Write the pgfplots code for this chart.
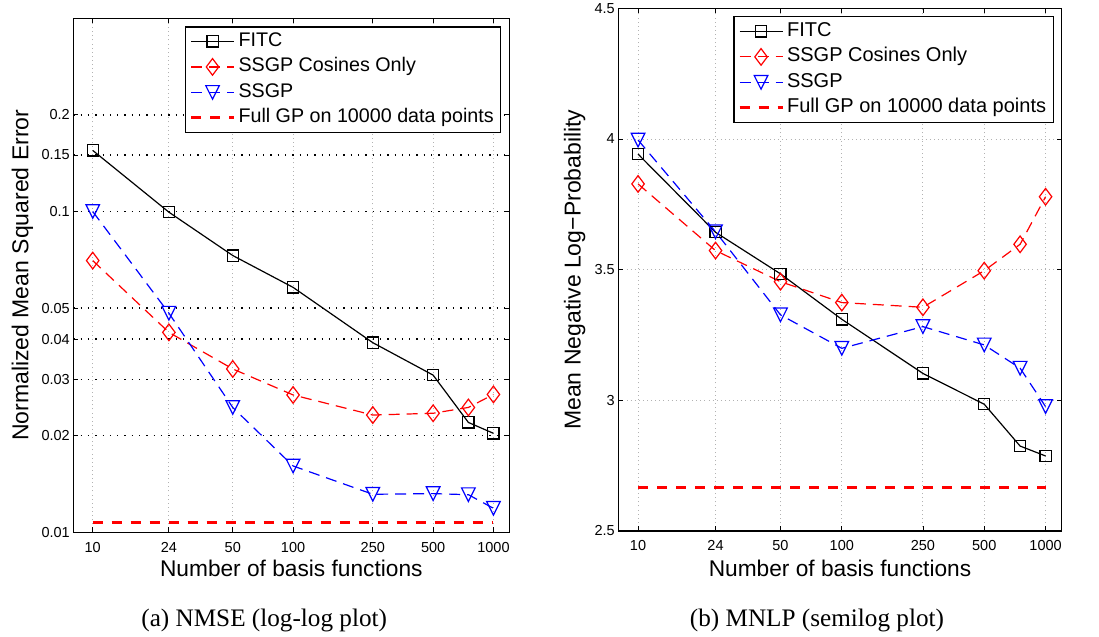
\documentclass[border=0pt]{standalone}
\usepackage{fontspec}
\setmainfont{Liberation Sans}
\newfontfamily\capfont{Liberation Serif}
\usepackage{pgfplots}
\pgfplotsset{compat=1.18}
\pgfdeclareplotmark{tridown}{%
  \pgfpathmoveto{\pgfqpoint{-\pgfplotmarksize}{\pgfplotmarksize}}%
  \pgfpathlineto{\pgfqpoint{\pgfplotmarksize}{\pgfplotmarksize}}%
  \pgfpathlineto{\pgfqpoint{0pt}{-\pgfplotmarksize}}%
  \pgfpathclose\pgfusepathqstroke}
\pgfplotsset{
  mystyle/.style={
    scale only axis,
    xmin=8, xmax=1200,
    xtick={10,24,50,100,250,500,1000},
    xticklabels={10,24,50,100,250,500,1000},
    tick align=inside,
    xtick pos=both, ytick pos=both,
    xticklabel pos=lower, yticklabel pos=left,
    major tick length=5bp,
    tick style={black, line width=0.8bp},
    axis line style={line width=1.3bp},
    ticklabel style={font=\fontsize{14.5bp}{17bp}\selectfont},
    xticklabel style={anchor=base, yshift=-20bp},
    yticklabel style={anchor=east},
    xmajorgrids, ymajorgrids,
    x grid style={gray!60, line width=0.9bp, dash pattern=on 0.9bp off 3.2bp},
    legend cell align=left,
    legend image code/.code={\draw[mark repeat=2,mark phase=2,##1] plot coordinates {(0bp,0bp) (21.5bp,0bp) (43bp,0bp)};},
    legend style={at={(1,1)}, anchor=north east, xshift=-8bp, yshift=-8bp,
      draw=black, line width=1.2bp, fill=white,
      inner xsep=4bp, inner ysep=2.5bp, row sep=1.5bp,
      nodes={inner sep=3bp, text height=14bp, text depth=4bp},
      font=\fontsize{19.7bp}{23bp}\selectfont},
  },
  fitc/.style={black, line width=1.2bp, mark=square, mark size=5.6bp, mark options={solid}},
  cosi/.style={red, line width=1.2bp, dash pattern=on 11bp off 7bp, mark=diamond, mark size=8.3bp, mark options={solid}},
  ssgp/.style={blue, line width=1.2bp, dash pattern=on 11bp off 7bp, mark=tridown, mark size=6.8bp, mark options={solid}},
  full/.style={red, line width=3bp, dash pattern=on 10bp off 9bp, no marks},
}
\begin{document}
\begin{tikzpicture}
\useasboundingbox (0bp,0bp) rectangle (1099bp,637bp);
\begin{axis}[xmode=log, ymode=log, mystyle,
  at={(73.3bp,104.7bp)}, anchor=south west, width=436bp, height=514bp,
  ymin=0.01, ymax=0.4,
  ytick={0.01,0.02,0.03,0.04,0.05,0.1,0.15,0.2},
  yticklabels={0.01,0.02,0.03,0.04,0.05,0.1,0.15,0.2},
  y grid style={black, line width=1.3bp, dash pattern=on 1.3bp off 6bp},
  /pgf/number format/assume math mode=true,
]
\addplot[fitc] coordinates {(10,0.155) (24,0.0995) (50,0.0729) (100,0.058) (250,0.039) (500,0.0309) (750,0.0220) (1000,0.02035)};
\addlegendentry{FITC}
\addplot[cosi] coordinates {(10,0.0703) (24,0.0420) (50,0.0323) (100,0.0268) (250,0.0232) (500,0.0235) (750,0.0245) (1000,0.0269)};
\addlegendentry{SSGP Cosines Only}
\addplot[ssgp] coordinates {(10,0.1) (24,0.0482) (50,0.0245) (100,0.0161) (250,0.01314) (500,0.0132) (750,0.0131) (1000,0.01188)};
\addlegendentry{SSGP}
\addplot[full] coordinates {(10,0.0107) (1000,0.0107)};
\addlegendentry{Full GP on 10000 data points}
\end{axis}
\begin{axis}[xmode=log, mystyle,
  at={(618.3bp,106bp)}, anchor=south west, width=443.4bp, height=522.7bp,
  ymin=2.5, ymax=4.5,
  ytick={2.5,3,3.5,4,4.5},
  yticklabels={2.5,3,3.5,4,4.5},
  y grid style={gray!60, line width=0.9bp, dash pattern=on 0.9bp off 3.2bp},
  legend style={font=\fontsize{20bp}{23bp}\selectfont},
  /pgf/number format/assume math mode=true,
]
\addplot[fitc] coordinates {(10,3.942) (24,3.643) (50,3.484) (100,3.310) (250,3.103) (500,2.985) (750,2.825) (1000,2.787)};
\addlegendentry{FITC}
\addplot[cosi] coordinates {(10,3.828) (24,3.573) (50,3.454) (100,3.374) (250,3.356) (500,3.496) (750,3.597) (1000,3.779)};
\addlegendentry{SSGP Cosines Only}
\addplot[ssgp] coordinates {(10,3.996) (24,3.645) (50,3.327) (100,3.199) (250,3.282) (500,3.212) (750,3.123) (1000,2.976)};
\addlegendentry{SSGP}
\addplot[full] coordinates {(10,2.667) (1000,2.667)};
\addlegendentry{Full GP on 10000 data points}
\end{axis}
\node[anchor=base, font=\fontsize{22.7bp}{26bp}\selectfont] at (291.3bp,60.3bp) {Number of basis functions};
\node[anchor=base, font=\fontsize{22.7bp}{26bp}\selectfont] at (840bp,60.3bp) {Number of basis functions};
\node[anchor=base, rotate=90, font=\fontsize{23bp}{26bp}\selectfont] at (28.3bp,361.7bp) {Normalized Mean Squared Error};
\node[anchor=base, rotate=90, font=\fontsize{23bp}{26bp}\selectfont] at (580.7bp,367.3bp) {Mean Negative Log−Probability};
\node[anchor=base, font=\capfont\fontsize{25.2bp}{29bp}\selectfont] at (264.2bp,11bp) {(a) NMSE (log-log plot)};
\node[anchor=base, font=\capfont\fontsize{25.2bp}{29bp}\selectfont] at (817bp,11bp) {(b) MNLP (semilog plot)};
\end{tikzpicture}
\end{document}
